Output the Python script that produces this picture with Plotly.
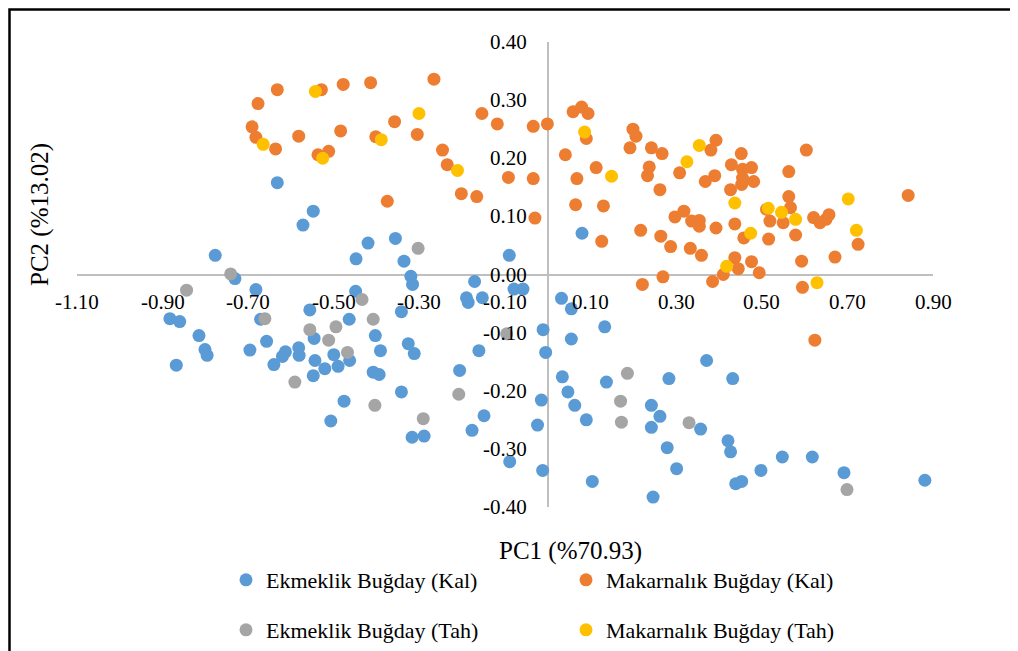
import plotly.graph_objects as go

# ---------------- data ----------------
ekmeklik_kal_x = [-0.632, -0.548, -0.572, -0.777, -0.420, -0.448, -0.356, -0.336, -0.320, -0.090,
                  0.080, -0.171, -0.316, -0.190, -0.186, -0.153, -0.079, -0.058, -0.342, 0.032,
                  0.055, -0.011, 0.055, 0.133, -0.005, -0.326, -0.312, -0.161, -0.206, -0.342,
                  -0.015, 0.034, 0.047, 0.063, 0.090, 0.137, -0.149, -0.177, -0.024, -0.317,
                  -0.289, -0.089, -0.012, 0.104, 0.283, 0.371, 0.432, 0.242, 0.262, 0.242,
                  0.357, 0.279, 0.301, 0.421, 0.427, 0.548, 0.618, 0.498, 0.439, 0.453,
                  0.692, 0.881, 0.246, -0.731, -0.682, -0.883, -0.860, -0.815, -0.801, -0.796,
                  -0.868, -0.671, -0.657, -0.696, -0.640, -0.620, -0.613, -0.582, -0.581, -0.556,
                  -0.546, -0.544, -0.548, -0.521, -0.500, -0.490, -0.463, -0.464, -0.449, -0.403,
                  -0.391, -0.408, -0.394, -0.476, -0.507]
ekmeklik_kal_y = [0.158, 0.109, 0.085, 0.033, 0.054, 0.027, 0.062, 0.023, -0.003, 0.033,
                  0.071, -0.012, -0.017, -0.040, -0.048, -0.040, -0.025, -0.025, -0.064, -0.041,
                  -0.059, -0.095, -0.111, -0.090, -0.134, -0.119, -0.136, -0.131, -0.165, -0.202,
                  -0.216, -0.176, -0.202, -0.225, -0.250, -0.185, -0.243, -0.268, -0.259, -0.280,
                  -0.278, -0.322, -0.337, -0.356, -0.179, -0.148, -0.179, -0.225, -0.244, -0.263,
                  -0.266, -0.298, -0.334, -0.286, -0.305, -0.314, -0.314, -0.337, -0.360, -0.356,
                  -0.341, -0.354, -0.383, -0.007, -0.026, -0.076, -0.081, -0.105, -0.129, -0.139,
                  -0.156, -0.077, -0.115, -0.130, -0.155, -0.141, -0.133, -0.126, -0.139, -0.061,
                  -0.110, -0.148, -0.174, -0.162, -0.138, -0.158, -0.148, -0.077, -0.029, -0.105,
                  -0.131, -0.168, -0.172, -0.218, -0.252]

makarnalik_kal_x = [-0.632, -0.677, -0.529, -0.478, -0.414, -0.691, -0.682, -0.636, -0.582, -0.484,
                    -0.402, -0.358, -0.537, -0.512, -0.375, -0.266, -0.305, -0.246, -0.235, -0.202,
                    -0.166, -0.154, -0.118, -0.092, -0.034, -0.001, -0.034, -0.030, 0.059, 0.079,
                    0.094, 0.090, 0.041, 0.068, 0.113, 0.065, 0.130, 0.126, 0.199, 0.206,
                    0.192, 0.242, 0.267, 0.237, 0.233, 0.308, 0.262, 0.393, 0.381, 0.452,
                    0.429, 0.476, 0.455, 0.455, 0.481, 0.453, 0.390, 0.368, 0.427, 0.604,
                    0.563, 0.563, 0.567, 0.511, 0.519, 0.550, 0.842, 0.318, 0.297, 0.336,
                    0.354, 0.354, 0.393, 0.437, 0.217, 0.264, 0.287, 0.333, 0.359, 0.458,
                    0.516, 0.579, 0.621, 0.636, 0.650, 0.657, 0.725, 0.671, 0.593, 0.437,
                    0.445, 0.476, 0.494, 0.410, 0.385, 0.269, 0.221, 0.595, 0.624]
makarnalik_kal_y = [0.318, 0.294, 0.318, 0.327, 0.330, 0.254, 0.236, 0.216, 0.238, 0.247,
                    0.237, 0.263, 0.206, 0.212, 0.126, 0.336, 0.241, 0.214, 0.189, 0.139,
                    0.134, 0.277, 0.259, 0.167, 0.255, 0.259, 0.165, 0.097, 0.280, 0.288,
                    0.277, 0.234, 0.206, 0.165, 0.184, 0.120, 0.118, 0.057, 0.250, 0.238,
                    0.218, 0.218, 0.208, 0.185, 0.170, 0.175, 0.146, 0.231, 0.214, 0.208,
                    0.189, 0.184, 0.181, 0.166, 0.160, 0.155, 0.170, 0.160, 0.146, 0.214,
                    0.177, 0.134, 0.115, 0.112, 0.092, 0.089, 0.136, 0.109, 0.099, 0.092,
                    0.093, 0.083, 0.080, 0.087, 0.076, 0.066, 0.048, 0.045, 0.033, 0.063,
                    0.061, 0.068, 0.098, 0.089, 0.095, 0.103, 0.052, 0.030, 0.023, 0.029,
                    0.010, 0.022, 0.003, 0.000, -0.012, -0.004, -0.017, -0.022, -0.113]

ekmeklik_tah_x = [-0.741, -0.844, -0.661, -0.556, -0.495, -0.512, -0.468, -0.434, -0.408, -0.591,
                  -0.404, -0.303, -0.096, -0.208, -0.291, 0.186, 0.170, 0.172, 0.330, 0.699]
ekmeklik_tah_y = [0.001, -0.027, -0.076, -0.095, -0.090, -0.113, -0.134, -0.043, -0.077, -0.185,
                  -0.225, 0.045, -0.102, -0.206, -0.248, -0.170, -0.218, -0.254, -0.255, -0.370]

makarnalik_tah_x = [-0.543, -0.665, -0.526, -0.389, -0.301, -0.211, 0.086, 0.149, 0.354, 0.325,
                    0.437, 0.515, 0.546, 0.579, 0.474, 0.702, 0.721, 0.418, 0.629]
makarnalik_tah_y = [0.315, 0.224, 0.200, 0.232, 0.277, 0.179, 0.245, 0.169, 0.222, 0.194,
                    0.123, 0.114, 0.107, 0.095, 0.071, 0.130, 0.076, 0.014, -0.014]

series_names = ["Ekmeklik Buğday (Kal)", "Makarnalık Buğday (Kal)",
                "Ekmeklik Buğday (Tah)", "Makarnalık Buğday (Tah)"]
x_ticks = [-1.10, -0.90, -0.70, -0.50, -0.30, -0.10, 0.10, 0.30, 0.50, 0.70, 0.90]
y_ticks = [0.40, 0.30, 0.20, 0.10, 0.00, -0.10, -0.20, -0.30, -0.40]
x_title = "PC1 (%70.93)"
y_title = "PC2 (%13.02)"

# ---------------- styling ----------------
FONT = "Liberation Serif"
colors = ["#5B9BD5", "#ED7D31", "#A5A5A5", "#FFC000"]
OFF = 8                      # page body margin of the html page
W, H = 1018 - OFF, 651 - OFF
PLOT_L, PLOT_R, PLOT_T, PLOT_B = 77, 933, 42, 507   # plot area in page pixels
L, T = PLOT_L - OFF, PLOT_T - OFF
R, B = W - (PLOT_R - OFF), H - (PLOT_B - OFF)
PW, PH = W - L - R, H - T - B


def px_to_paper_x(px):
    return (px - OFF - L) / PW


def px_to_paper_y(py):
    return (H - B - (py - OFF)) / PH


fig = go.Figure()
all_series = [
    (ekmeklik_kal_x, ekmeklik_kal_y, "legend"),
    (makarnalik_kal_x, makarnalik_kal_y, "legend"),
    (ekmeklik_tah_x, ekmeklik_tah_y, "legend2"),
    (makarnalik_tah_x, makarnalik_tah_y, "legend2"),
]
for (xs, ys, lg), name, col in zip(all_series, series_names, colors):
    fig.add_trace(go.Scatter(x=xs, y=ys, mode="markers", name=name, legend=lg,
                             marker=dict(color=col, size=13, line=dict(width=0)),
                             cliponaxis=False))

annotations = []
for xv in x_ticks:
    annotations.append(dict(x=xv, y=0, xref="x", yref="y", text=f"{xv:.2f}", showarrow=False,
                            xanchor="center", yanchor="middle", yshift=-27,
                            font=dict(family=FONT, size=21, color="#000000")))
for yv in y_ticks:
    txt = f"{yv:.2f}" if abs(yv) > 1e-9 else "0.00"
    annotations.append(dict(x=0, y=yv, xref="x", yref="y", text=txt, showarrow=False,
                            xanchor="right", yanchor="middle", xshift=-19,
                            font=dict(family=FONT, size=21, color="#000000")))
annotations.append(dict(x=px_to_paper_x(570), y=px_to_paper_y(551), xref="paper", yref="paper",
                        text=x_title, showarrow=False, xanchor="center", yanchor="middle",
                        font=dict(family=FONT, size=25, color="#000000")))
annotations.append(dict(x=px_to_paper_x(40), y=px_to_paper_y(215), xref="paper", yref="paper",
                        text=y_title, showarrow=False, xanchor="center", yanchor="middle",
                        textangle=-90, font=dict(family=FONT, size=25, color="#000000")))

legend_common = dict(orientation="h", xanchor="left", yanchor="middle",
                     x=px_to_paper_x(226), entrywidth=295, entrywidthmode="pixels",
                     bgcolor="rgba(0,0,0,0)", borderwidth=0,
                     font=dict(family=FONT, size=22, color="#000000"))

fig.update_layout(
    width=W, height=H,
    margin=dict(l=L, r=R, t=T, b=B, autoexpand=False),
    paper_bgcolor="white", plot_bgcolor="white",
    xaxis=dict(range=[-1.1, 0.9], showgrid=False, zeroline=True, zerolinecolor="#BFBFBF",
               zerolinewidth=2, showticklabels=False, ticks="", showline=False, fixedrange=True),
    yaxis=dict(range=[-0.4, 0.4], showgrid=False, zeroline=True, zerolinecolor="#BFBFBF",
               zerolinewidth=2, showticklabels=False, ticks="", showline=False, fixedrange=True),
    legend=dict(**legend_common, y=px_to_paper_y(580)),
    legend2=dict(**legend_common, y=px_to_paper_y(630)),
    annotations=annotations,
    shapes=[dict(type="rect", xref="paper", yref="paper",
                 x0=px_to_paper_x(OFF + 1.5), x1=px_to_paper_x(1040),
                 y0=px_to_paper_y(680), y1=px_to_paper_y(OFF + 1.5),
                 line=dict(color="#000000", width=2.5), fillcolor="rgba(0,0,0,0)", layer="below")],
)

fig.write_html("out.html")
